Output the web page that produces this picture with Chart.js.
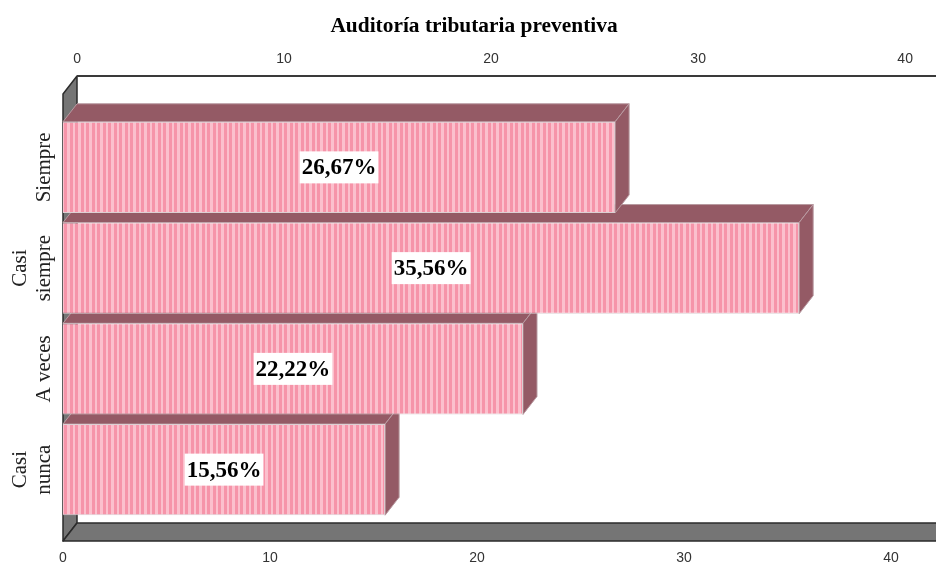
<!DOCTYPE html>
<html>
<head>
<meta charset="utf-8">
<title>Auditoría tributaria preventiva</title>
<script src="https://cdn.jsdelivr.net/npm/chart.js@4"></script>
<style>
  html, body { margin: 0; padding: 0; background: #fff; overflow: hidden; }
  #wrap { width: 936px; height: 565px; overflow: hidden; }
  canvas { display: block; }
</style>
</head>
<body>
<div id="wrap"><canvas id="chart" width="948" height="565"></canvas></div>
<script>
const chartTitle = "Auditoría tributaria preventiva";
// the empty first line keeps one-line labels next to the axis
const categories = [["", "Siempre"], ["Casi", "siempre"], ["", "A veces"], ["Casi", "nunca"]];
const percents = [26.67, 35.56, 22.22, 15.56];
const tickValues = [0, 10, 20, 30, 40];

// box depth in pixels, used for the walls, the floor and the bar sides
const depthX = 14;
const depthY = 18;

function stripes() {
  const c = document.createElement("canvas");
  c.width = 11;
  c.height = 4;
  const g = c.getContext("2d");
  g.fillStyle = "#f694a9";
  g.fillRect(0, 0, 11, 4);
  g.fillStyle = "#fbc0cd";
  g.fillRect(1, 0, 3, 4);
  g.fillRect(7, 0, 2, 4);
  return g.createPattern(c, "repeat");
}

function poly(ctx, pts, fill, stroke, lw) {
  ctx.beginPath();
  pts.forEach((p, i) => (i ? ctx.lineTo(p[0], p[1]) : ctx.moveTo(p[0], p[1])));
  ctx.closePath();
  ctx.fillStyle = fill;
  ctx.fill();
  ctx.lineWidth = lw;
  ctx.strokeStyle = stroke;
  ctx.stroke();
}

// walls, floor, then the top and right side of every bar, lowest bar first
const boxPlugin = {
  id: "box",
  beforeDatasetsDraw(chart) {
    const ctx = chart.ctx;
    const a = chart.chartArea;
    const top = a.top - 23;
    const bottom = a.bottom + 21;
    ctx.save();
    ctx.lineJoin = "round";
    poly(ctx, [[a.left, top], [a.left + depthX, top - depthY], [a.left + depthX, bottom - depthY], [a.left, bottom]], "#757575", "#2b2b2b", 1.5);
    poly(ctx, [[a.left, bottom], [a.left + depthX, bottom - depthY], [a.right + depthX, bottom - depthY], [a.right, bottom]], "#757575", "#2b2b2b", 1.5);
    ctx.beginPath();
    ctx.moveTo(a.left + depthX, top - depthY);
    ctx.lineTo(a.right + depthX, top - depthY);
    ctx.lineWidth = 2;
    ctx.strokeStyle = "#3a3a3a";
    ctx.stroke();

    const bars = chart.getDatasetMeta(0).data;
    for (let i = bars.length - 1; i >= 0; i--) {
      const b = bars[i];
      const y0 = b.y - b.height / 2;
      const y1 = b.y + b.height / 2;
      poly(ctx, [[b.base, y0], [b.base + depthX, y0 - depthY], [b.x + depthX, y0 - depthY], [b.x, y0]], "#945a65", "#b89aa1", 1);
      poly(ctx, [[b.x, y0], [b.x + depthX, y0 - depthY], [b.x + depthX, y1 - depthY], [b.x, y1]], "#945a65", "#b89aa1", 1);
    }
    ctx.restore();
  },
  afterDatasetsDraw(chart) {
    const ctx = chart.ctx;
    const bars = chart.getDatasetMeta(0).data;
    ctx.save();
    ctx.font = "bold 23px 'Liberation Serif'";
    ctx.textAlign = "center";
    ctx.textBaseline = "middle";
    bars.forEach((b, i) => {
      const label = percents[i].toFixed(2).replace(".", ",") + "%";
      const w = ctx.measureText(label).width + 4;
      const cx = (b.base + b.x) / 2;
      ctx.fillStyle = "#fff";
      ctx.fillRect(cx - w / 2, b.y - 16, w, 32);
      ctx.fillStyle = "#000";
      ctx.fillText(label, cx, b.y + 1);
    });
    ctx.restore();
  },
};

const valueTicks = {
  color: "#333",
  font: { family: "'Liberation Sans'", size: 14 },
  maxRotation: 0,
};

// the value axes run off the right edge, so they need no room for a last label
function fitValueAxis(s, height) {
  s.height = height;
  s.paddingLeft = 0;
  s.paddingRight = 0;
}

new Chart(document.getElementById("chart").getContext("2d"), {
  type: "bar",
  data: {
    labels: categories,
    datasets: [
      {
        data: percents,
        backgroundColor: stripes(),
        borderColor: "#dcd0d3",
        borderWidth: 1,
        barPercentage: 0.905,
        categoryPercentage: 1,
      },
    ],
  },
  options: {
    indexAxis: "y",
    responsive: false,
    animation: false,
    layout: { padding: { left: 12, right: 12 } },
    plugins: {
      legend: { display: false },
      tooltip: { enabled: false },
      title: {
        display: true,
        text: chartTitle,
        color: "#000",
        font: { family: "'Liberation Serif'", size: 21.4, weight: "bold" },
        padding: { top: 14, bottom: 0 },
      },
    },
    scales: {
      y: {
        grid: { display: false },
        border: { display: false },
        ticks: {
          color: "#222",
          font: { family: "'Liberation Serif'", size: 21, lineHeight: 1.1 },
          minRotation: 90,
          maxRotation: 90,
          crossAlign: "center",
          padding: -12.5,
        },
        afterFit: (s) => { s.width = 51; },
      },
      x: {
        position: "bottom",
        min: 0,
        max: 42.17,
        grid: { display: false },
        border: { display: false },
        ticks: { ...valueTicks, padding: 22 },
        afterBuildTicks: (s) => { s.ticks = tickValues.map((value) => ({ value })); },
        afterFit: (s) => fitValueAxis(s, 45),
      },
      xTop: {
        position: "top",
        min: -0.68,
        max: 41.49,
        grid: { display: false },
        border: { display: false },
        ticks: { ...valueTicks, padding: 41 },
        afterBuildTicks: (s) => { s.ticks = tickValues.map((value) => ({ value })); },
        afterFit: (s) => fitValueAxis(s, 117 - 14 - 25.68),
      },
    },
  },
  plugins: [boxPlugin],
});
</script>
</body>
</html>
